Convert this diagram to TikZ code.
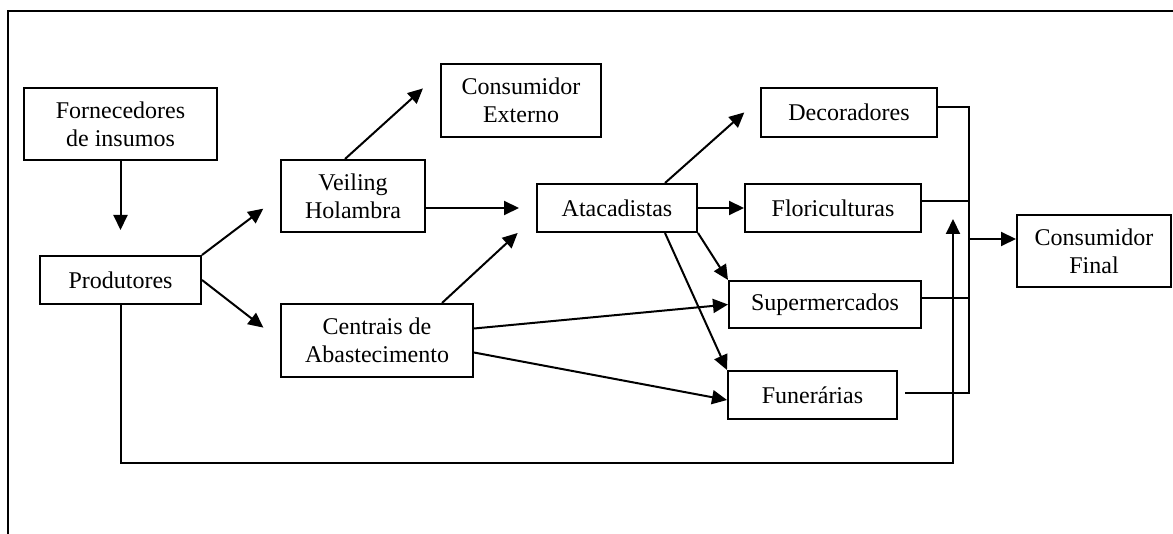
\documentclass[tikz,border=0pt]{standalone}
\usepackage{fontspec}
\setmainfont{Liberation Serif}
\usetikzlibrary{arrows.meta}
\tikzset{
	caixa/.style={draw, line width=2pt, align=center, inner sep=0pt, font=\fontsize{24}{28}\selectfont},
	seta/.style={line width=2pt, -{Triangle[length=15pt,width=14pt]}},
	linha/.style={line width=2pt},
}

\begin{document}
\begin{tikzpicture}[x=1pt,y=-1pt]
	\useasboundingbox (0,0) rectangle (1173,534);
	\draw[linha] (8,534)--(8,11)--(1173,11);

	\node[caixa, minimum width=193pt, minimum height=72pt] (forn) at (120.5,124) {Fornecedores\\de insumos};
	\node[caixa, minimum width=161pt, minimum height=48pt] (prod) at (120.5,280) {Produtores};
	\node[caixa, minimum width=144pt, minimum height=72pt] (veil) at (353,196) {Veiling\\Holambra};
	\node[caixa, minimum width=192pt, minimum height=73pt] (cent) at (377,340.5) {Centrais de\\Abastecimento};
	\node[caixa, minimum width=160pt, minimum height=73pt] (cext) at (521,100.5) {Consumidor\\Externo};
	\node[caixa, minimum width=160pt, minimum height=48pt] (atac) at (617,208) {Atacadistas};
	\node[caixa, minimum width=176pt, minimum height=49pt] (deco) at (849,112.5) {Decoradores};
	\node[caixa, minimum width=176pt, minimum height=48pt] (flor) at (833,208) {Floriculturas};
	\node[caixa, minimum width=192pt, minimum height=47pt] (superm) at (825,304.5) {Supermercados};
	\node[caixa, minimum width=169pt, minimum height=48pt] (fune) at (812.5,395) {Funerárias};
	\node[caixa, minimum width=154pt, minimum height=72pt] (cfin) at (1094,251) {Consumidor\\Final};

	% setas entre os elos
	\draw[seta, shorten >=25pt] (forn.south) -- (prod.north);
	\draw[seta, shorten >=21pt] (prod.north east) -- (veil.west);
	\draw[seta, shorten >=21pt] (prod.east) -- (cent.west);
	\draw[seta, shorten >=23pt] ([xshift=-8pt]veil.north) -- ([yshift=-10pt]cext.north west);
	\draw[seta, shorten >=17pt] (veil.east |- atac.west) -- (atac.west);
	\draw[seta, shorten >=25pt] ([xshift=65pt]cent.north) -- ([yshift=-8pt]atac.west);
	\draw[seta, shorten >=21pt] ([xshift=48pt]atac.north) -- ([yshift=14pt]deco.west);
	\draw[seta] (atac.east) -- (flor.west);
	\draw[seta] (atac.south east) -- (superm.north west);
	\draw[seta] ([xshift=48pt]atac.south) -- (fune.north west);
	\draw[seta] ([yshift=12pt]cent.east) -- (superm.west);
	\draw[seta] ([yshift=-12pt]cent.east) -- ([yshift=-5pt]fune.west);

	% barramento ate o consumidor final
	\coordinate (btop) at (969,107);
	\coordinate (bbot) at (969,393);
	\coordinate (bmid) at (969,239);
	\draw[linha] ([yshift=5.5pt]deco.east) -- (btop) -- (bbot) -- ([xshift=7pt,yshift=2pt]fune.east);
	\draw[linha] ([yshift=7pt]flor.east) -- ++(48,0);
	\draw[linha] ([yshift=6.5pt]superm.east) -- ++(48,0);
	\draw[seta] (bmid) -- ([yshift=12pt]cfin.west);

	% venda direta dos produtores
	\coordinate (fb) at (953,219);
	\draw[seta] (prod.south) -- (120.5,463) -| (fb);
\end{tikzpicture}
\end{document}
